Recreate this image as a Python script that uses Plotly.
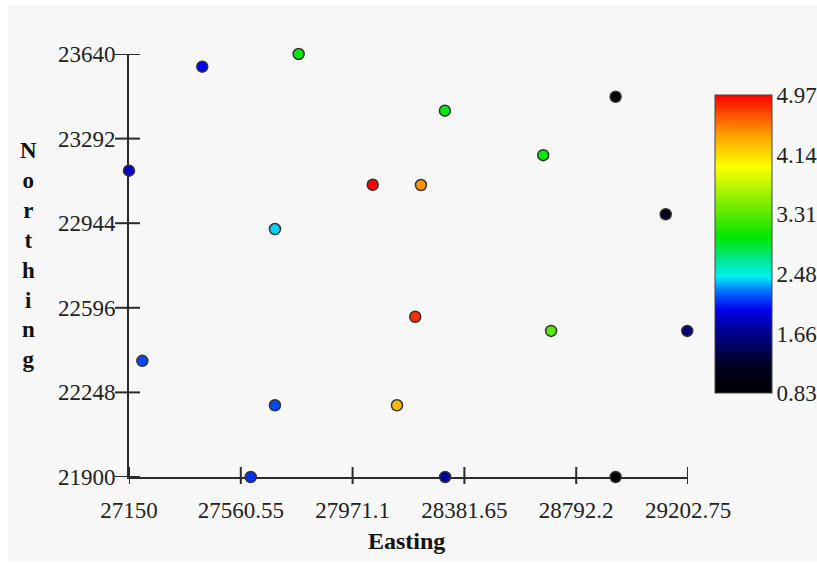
import plotly.graph_objects as go

# Sample locations and measured values
easting = [27419, 27773, 28937, 28310, 28671, 27150, 28045, 28222, 29121, 27686,
           28201, 28700, 29200, 27199, 27686, 28134, 27597, 28311, 28937]
northing = [23588, 23640, 23464, 23407, 23224, 23160, 23102, 23101, 22981, 22920,
            22559, 22501, 22501, 22378, 22195, 22195, 21900, 21900, 21900]
values = [2.0, 2.95, 0.83, 2.95, 3.0, 1.85, 4.97, 4.45, 1.1, 2.4,
          4.8, 3.3, 1.55, 2.15, 2.15, 4.3, 2.1, 1.7, 0.83]

x_ticks = [27150, 27560.55, 27971.1, 28381.65, 28792.2, 29202.75]
x_tick_text = ["27150", "27560.55", "27971.1", "28381.65", "28792.2", "29202.75"]
y_ticks = [21900, 22248, 22596, 22944, 23292, 23640]
y_tick_text = ["21900", "22248", "22596", "22944", "23292", "23640"]
cbar_ticks = [0.83, 1.658, 2.486, 3.314, 4.142, 4.97]
cbar_text = ["0.83", "1.66", "2.48", "3.31", "4.14", "4.97"]

colorscale = [
    [0.00, "rgb(0,0,0)"],
    [0.10, "rgb(0,0,40)"],
    [0.20, "rgb(0,0,140)"],
    [0.28, "rgb(0,0,235)"],
    [0.34, "rgb(0,110,255)"],
    [0.39, "rgb(0,240,240)"],
    [0.45, "rgb(0,230,140)"],
    [0.52, "rgb(0,230,0)"],
    [0.62, "rgb(110,235,0)"],
    [0.76, "rgb(255,255,0)"],
    [0.86, "rgb(255,165,0)"],
    [1.00, "rgb(255,0,0)"],
]

FONT = "Liberation Serif"
AX = "#2b2b2b"
TICKFONT = dict(family=FONT, size=23, color="#222222")

fig = go.Figure()
fig.add_trace(go.Scatter(
    x=easting, y=northing, mode="markers", cliponaxis=False,
    marker=dict(
        size=11, color=values, colorscale=colorscale, cmin=0.83, cmax=4.97,
        line=dict(color="#333333", width=1.5),
        colorbar=dict(
            x=1.0483, xanchor="left", xref="paper", xpad=0,
            y=0.5505, yanchor="middle", ypad=0,
            thickness=57, thicknessmode="pixels",
            len=298, lenmode="pixels",
            outlinecolor="#444444", outlinewidth=1,
            tickvals=cbar_ticks, ticktext=cbar_text,
            ticks="outside", ticklen=0, tickcolor="rgba(0,0,0,0)",
            tickfont=TICKFONT,
        ),
    ),
    showlegend=False,
))

shapes = [
    # light grey canvas
    dict(type="rect", xref="paper", yref="paper", x0=-0.2165, x1=1.25, y0=-0.2018, y1=1.1159,
         fillcolor="#f7f7f7", line=dict(width=0), layer="below"),
]
# tick marks crossing the axis lines
for t in y_ticks:
    shapes.append(dict(type="line", xref="paper", yref="y", xsizemode="pixel", xanchor=0,
                       x0=-14, x1=11, y0=t, y1=t, line=dict(color=AX, width=2)))
for t in x_ticks:
    shapes.append(dict(type="line", xref="x", yref="paper", ysizemode="pixel", yanchor=0,
                       x0=t, x1=t, y0=-7, y1=10, line=dict(color=AX, width=2)))

fig.update_layout(
    width=817, height=567,
    margin=dict(l=129, r=129, t=54, b=90, autoexpand=False),
    paper_bgcolor="white", plot_bgcolor="#f7f7f7",
    shapes=shapes,
    xaxis=dict(
        range=[27150, 29202.75], showgrid=False, zeroline=False,
        showline=True, linecolor=AX, linewidth=2, layer="below traces",
        tickvals=x_ticks, ticktext=x_tick_text,
        ticks="", ticklabelstandoff=11,
        tickfont=TICKFONT,
    ),
    yaxis=dict(
        range=[21900, 23640], showgrid=False, zeroline=False,
        showline=True, linecolor=AX, linewidth=2, layer="below traces",
        tickvals=y_ticks, ticktext=y_tick_text,
        ticks="", ticklabelstandoff=7,
        tickfont=TICKFONT,
    ),
    annotations=[
        dict(text="<b>Easting</b>", xref="paper", yref="paper", x=0.4973, y=-0.152,
             xanchor="center", yanchor="middle", showarrow=False,
             font=dict(family=FONT, size=24, color="#111111")),
        dict(text="<b>N<br>o<br>r<br>t<br>h<br>i<br>n<br>g</b>", xref="paper", yref="paper",
             x=-0.179, y=0.5245, xanchor="center", yanchor="middle", showarrow=False,
             font=dict(family=FONT, size=23, color="#111111")),
    ],
)

fig.write_html("out.html")
